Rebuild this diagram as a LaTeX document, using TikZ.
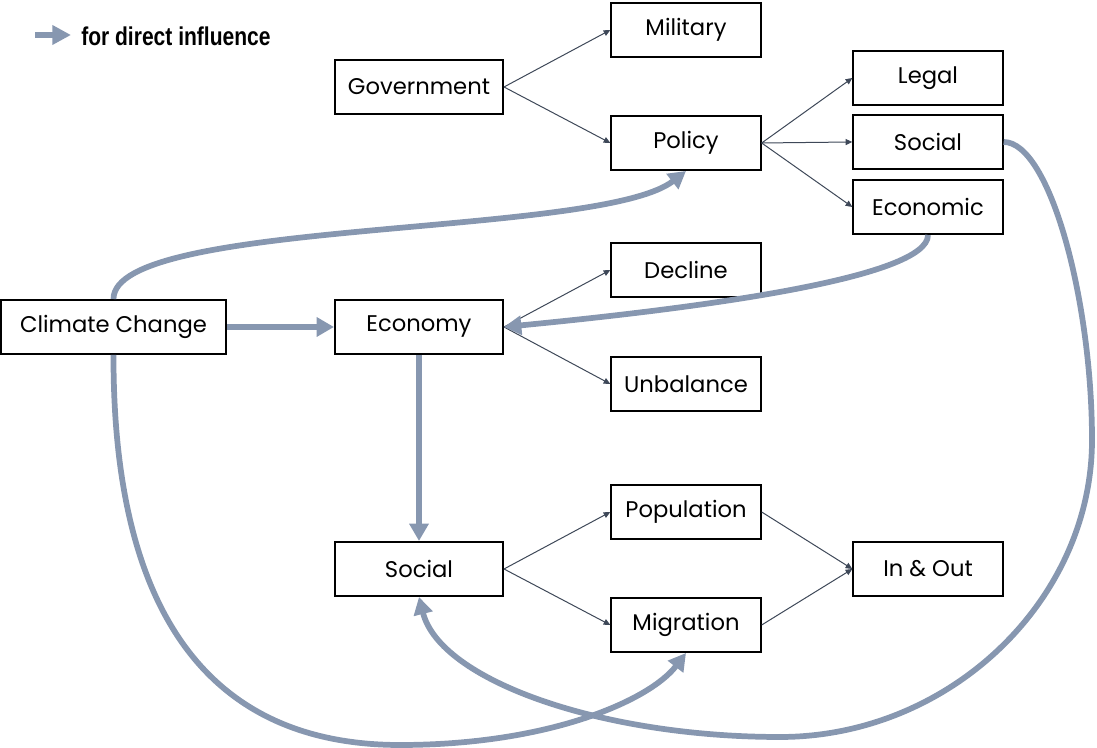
\documentclass[tikz,border=0pt]{standalone}
\usepackage{fontspec}
\setmainfont{Poppins}
\newfontfamily\legendfont{Liberation Sans}
\usetikzlibrary{arrows.meta}
\definecolor{thickc}{HTML}{8797B0}
\definecolor{thinc}{HTML}{3E4858}
\begin{document}
\begin{tikzpicture}[x=0.75pt,y=0.75pt,
 box/.style={draw=black,line width=1.5pt,minimum height=40.5pt,inner sep=0pt,font=\fontsize{17}{20}\selectfont},
 sbox/.style={box,minimum width=112pt},
 mbox/.style={box,minimum width=126pt},
 thinarr/.style={draw=thinc,line width=0.75pt,-{Triangle[length=5pt,width=4.5pt]}},
 thickarr/.style={draw=thickc,line width=4.3pt,-{Triangle[length=13pt,width=14pt]}},
]
\useasboundingbox (0,0) rectangle (1097,748);
% nodes
\node[sbox] (military) at (686,718) {Military};
\node[mbox] (government) at (419,661) {Government};
\node[sbox] (policy) at (686,605) {Policy};
\node[sbox] (legal) at (928,670) {Legal};
\node[sbox] (socialT) at (928,606) {Social};
\node[sbox] (economic) at (928,541) {Economic};
\node[sbox] (decline) at (686,478) {Decline};
\node[box,minimum width=169pt] (cc) at (113.5,421) {Climate Change};
\node[mbox] (economy) at (419,421) {Economy};
\node[sbox] (unbalance) at (686,364) {Unbalance};
\node[sbox] (population) at (686,236) {Population};
\node[mbox] (socialB) at (419,179) {Social};
\node[sbox] (migration) at (686,123) {Migration};
\node[sbox] (inout) at (928,179) {In \& Out};
% legend
\coordinate (lg0) at (35,713);
\coordinate (lg1) at (71,713);
\draw[draw=thickc,line width=5pt,-{Triangle[length=14pt,width=14pt]}] (lg0) -- (lg1);
\node[anchor=west,inner sep=0pt] (legend) at (81,712) {\resizebox{142pt}{14pt}{\legendfont\bfseries for direct influence}};
% thin arrows
\draw[thinarr] (government.east) -- (military.west);
\draw[thinarr] (government.east) -- (policy.west);
\draw[thinarr] (policy.east) -- (legal.west);
\draw[thinarr] (policy.east) -- (socialT.west);
\draw[thinarr] (policy.east) -- (economic.west);
\draw[thinarr] (economy.east) -- (decline.west);
\draw[thinarr] (economy.east) -- (unbalance.west);
\draw[thinarr] (socialB.east) -- (population.west);
\draw[thinarr] (socialB.east) -- (migration.west);
\draw[thinarr] (population.east) -- (inout.west);
\draw[thinarr] (migration.east) -- (inout.west);
% thick arrows
\draw[thickarr] (cc.east) -- (economy.west);
\draw[thickarr] (economy.south) -- (socialB.north);
\draw[thickarr] (cc.north) .. controls +(0,81) and +(-86,-67) .. (policy.south);
\draw[thickarr] (economic.south) .. controls +(0,-43) and +(196,19) .. (economy.east);
\draw[thickarr] (socialT.east) .. controls +(46,0) and (1092,448) .. (1092,308)
  .. controls (1092,148) and (950,11) .. (780,11)
  .. controls (600,11) and (440,68) .. (socialB.south);
\draw[thickarr] (cc.south) .. controls (113,148) and (200,3) .. (400,3)
  .. controls (550,3) and (650,48) .. (migration.south);
\end{tikzpicture}
\end{document}
